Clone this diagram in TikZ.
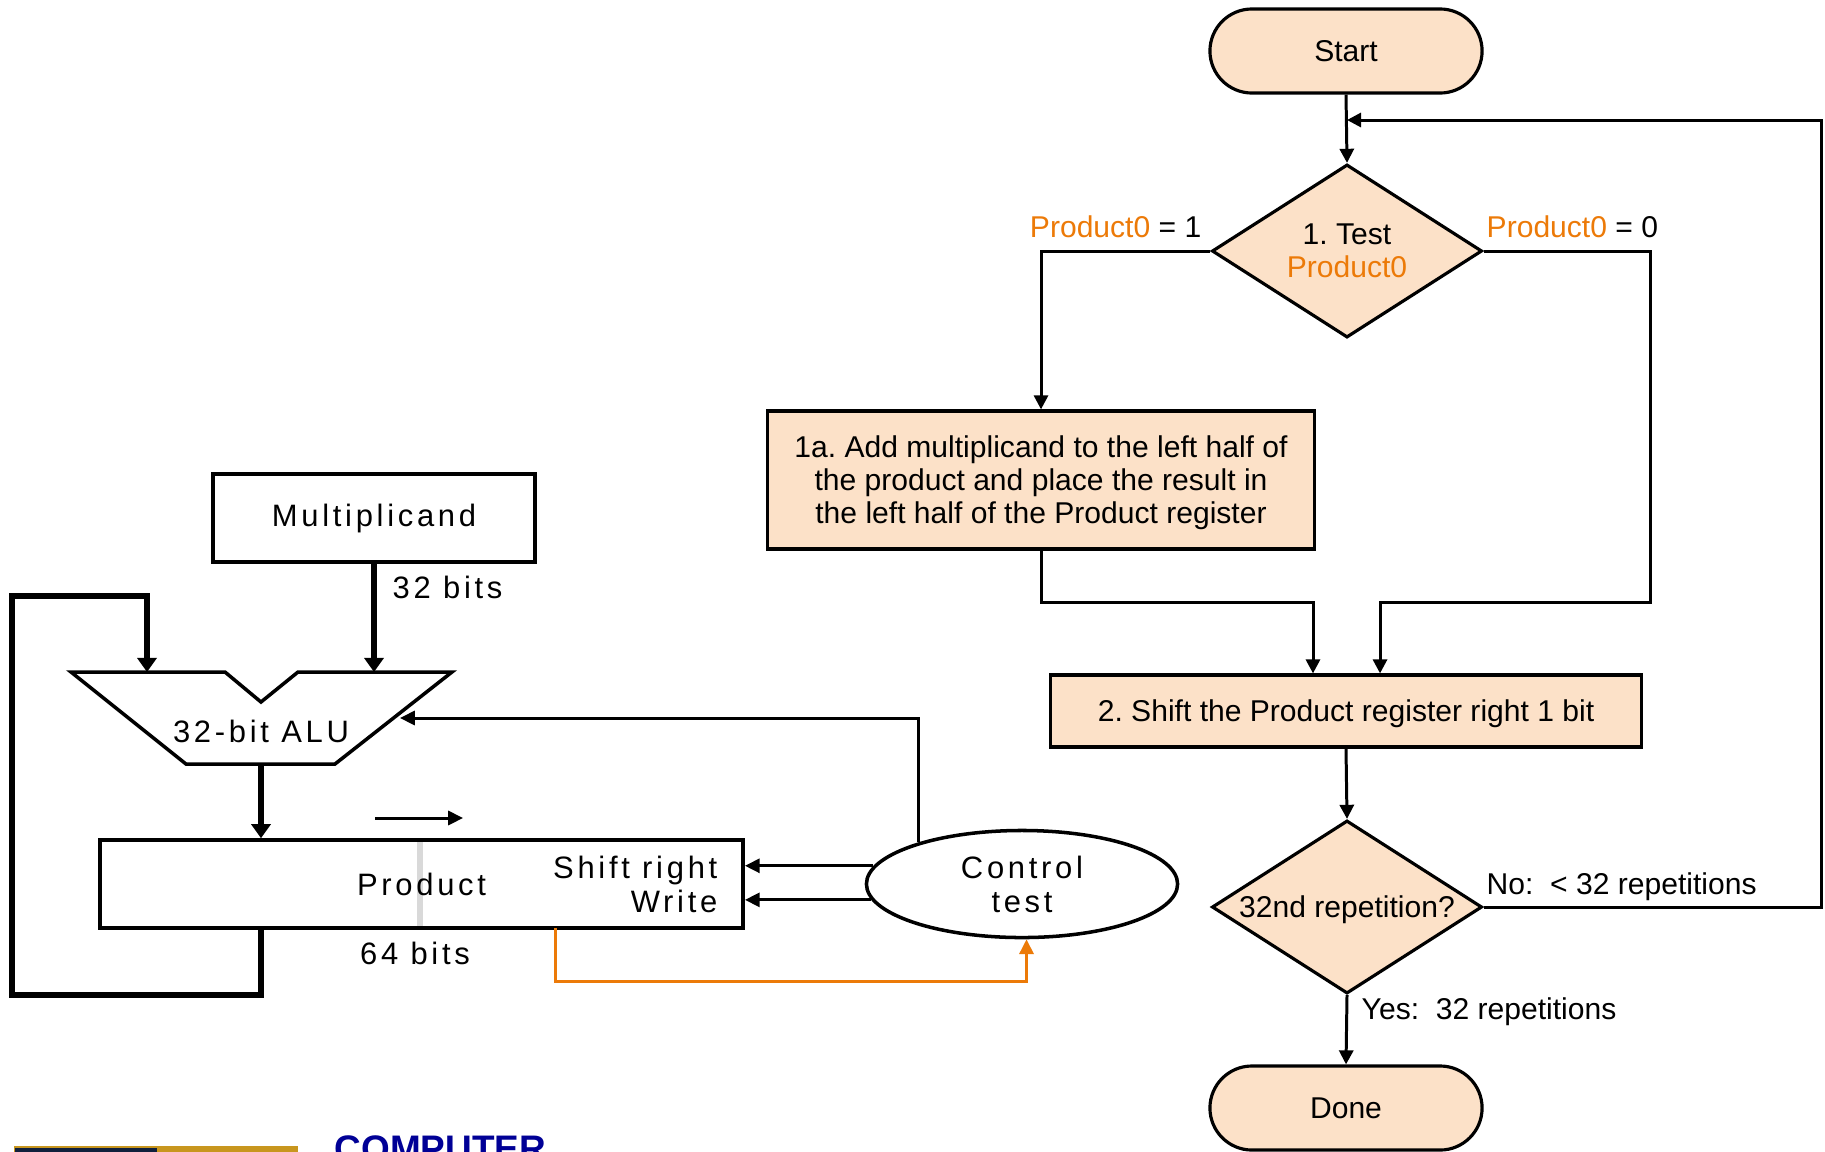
\documentclass[tikz,border=0pt]{standalone}
\usepackage{fontspec}
\setmainfont{Liberation Sans}
\newfontfamily\dpfont[LetterSpace=12]{Liberation Sans}
\usetikzlibrary{shapes.geometric,arrows.meta}
\definecolor{peach}{RGB}{252,225,200}
\definecolor{ordot}{RGB}{236,122,8}
\definecolor{brandblue}{RGB}{0,0,150}
\definecolor{barnavy}{RGB}{16,32,60}
\definecolor{bargold}{RGB}{200,150,30}
\newcommand{\orbit}[1]{\textcolor{ordot}{#1}}
\frenchspacing

\begin{document}
\begin{tikzpicture}[x=0.01cm,y=-0.01cm,
    flow/.style={draw,line width=0.9pt,fill=peach,inner sep=0pt,text depth=0pt,font=\fontsize{8.55}{9.4}\selectfont},
    term/.style={flow,rectangle,rounded corners=0.42cm,minimum width=2.72cm,minimum height=0.84cm},
    decide/.style={flow,diamond,aspect=1.56,minimum width=2.7cm,minimum height=1.73cm,align=center},
    stepbox/.style={flow,rectangle,align=center},
    lbl/.style={inner sep=0pt,font=\fontsize{8.55}{9.4}\selectfont},
    link/.style={line width=0.85pt,-{Triangle[length=4pt,width=4pt]}},
    reg/.style={draw,line width=1pt,inner sep=0pt,font=\fontsize{8.8}{9.7}\dpfont},
    dptext/.style={inner sep=0pt,font=\fontsize{8.8}{9.7}\dpfont},
    bus/.style={line width=1.9pt,line join=miter,-{Triangle[length=4pt,width=5.4pt]}},
    ctl/.style={line width=0.85pt,-{Triangle[length=4.2pt,width=4pt]}}]
  \useasboundingbox (0,0) rectangle (1825,1151);
  \clip (0,0) rectangle (1825,1151);

  \node[term] (start) at (1346,51) {Start};
  \node[decide] (test1) at (1347,251) {1. Test\\\orbit{Product0}};
  \node[stepbox,minimum width=5.47cm,minimum height=1.38cm] (add) at (1041,480)
    {1a. Add multiplicand to the left half of\\the product and place the result in\\the left half of the Product register};
  \node[stepbox,minimum width=5.91cm,minimum height=0.72cm] (shift) at (1346,711)
    {2. Shift the Product register right 1 bit};
  \node[decide] (test2) at (1347,907) {32nd repetition?};
  \node[term] (done) at (1346,1108) {Done};

  \node[lbl,anchor=east] (one) at (1202,227) {\orbit{Product0} = 1};
  \node[lbl,anchor=west] (zero) at (1486,227) {\orbit{Product0} = 0};
  \node[lbl,anchor=west] (no) at (1486,887) {No:\ \ < 32 repetitions};
  \node[lbl,anchor=west] (yes) at (1361,1012) {Yes:\ \ 32 repetitions};

  \coordinate (join) at (1347,120);
  \coordinate (loopR) at (1821,120);
  \coordinate (zeroR) at (1650,602);
  \coordinate (addS) at (1041,602);
  \draw[link] (start.south) -- (test1.north);
  \draw[link] (test1.west) -| (add.north);
  \draw[link] (test1.east) -| (zeroR) -| ([xshift=0.34cm]shift.north);
  \draw[link] (add.south) -- (addS) -| ([xshift=-0.33cm]shift.north);
  \draw[link] (shift.south) -- (test2.north);
  \draw[link] (test2.south) -- (done.north);
  \draw[link] (test2.east) -| (loopR) -- (join);

  \draw[black!15,line width=1.6pt] (420,840) -- (420,928);
  \node[reg,minimum width=3.22cm,minimum height=0.88cm] (mcand) at (374,518) {Multiplicand};
  \draw[line width=1pt,line join=miter] (71,672) -- (225,672) -- (261,702) -- (298,672)
    -- (452,672) -- (335,764) -- (186,764) -- cycle;
  \coordinate (aluA) at (147,672);
  \coordinate (aluB) at (374,672);
  \coordinate (aluOut) at (261,764);
  \coordinate (aluCtl) at (400,718);
  \node[dptext] (alu) at (261,731) {32-bit ALU};
  \node[reg,minimum width=6.43cm,minimum height=0.88cm] (prod) at (421.5,884) {Product};
  \node[dptext,align=right,anchor=east] (sw) at (718,884) {Shift right\\Write};
  \node[dptext,anchor=west] (b32) at (392,587) {32 bits};
  \node[dptext] (b64) at (415,953) {64 bits};
  \node[draw,ellipse,line width=1pt,inner sep=0pt,minimum width=3.11cm,minimum height=1.07cm,
    align=center,font=\fontsize{8.8}{9.7}\dpfont] (ctrl) at (1022,884) {Control\\test};

  \coordinate (fb1) at (261,995);
  \coordinate (fb2) at (12,995);
  \coordinate (fb3) at (12,596);
  \coordinate (fb4) at (147,596);
  \draw[bus] (mcand.south -| aluB) -- (aluB);
  \draw[bus] (aluOut) -- (prod.north -| aluOut);
  \draw[bus] (prod.south -| fb1) -- (fb1) -- (fb2) -- (fb3) -- (fb4) -- (aluA);
  \draw[ctl] (375,818) -- (463,818);

  \draw[ctl] (ctrl.158) |- (aluCtl);
  \draw[ctl] (ctrl.173) -- (ctrl.173 -| prod.east);
  \draw[ctl] (ctrl.186) -- (ctrl.186 -| prod.east);
  \coordinate (pb) at (555,928);
  \coordinate (ob) at (555,981);
  \draw[ctl,ordot] (pb) -- (ob) -| ([xshift=0.045cm]ctrl.south);

  \fill[bargold] (14,1146) rectangle (298,1152);
  \fill[barnavy] (15,1148) rectangle (157,1152);
  \node[anchor=base west,inner sep=0pt,text=brandblue,font=\fontsize{10.5}{12}\selectfont\bfseries]
    (brand) at (334,1161) {COMPUTER};
\end{tikzpicture}
\end{document}
